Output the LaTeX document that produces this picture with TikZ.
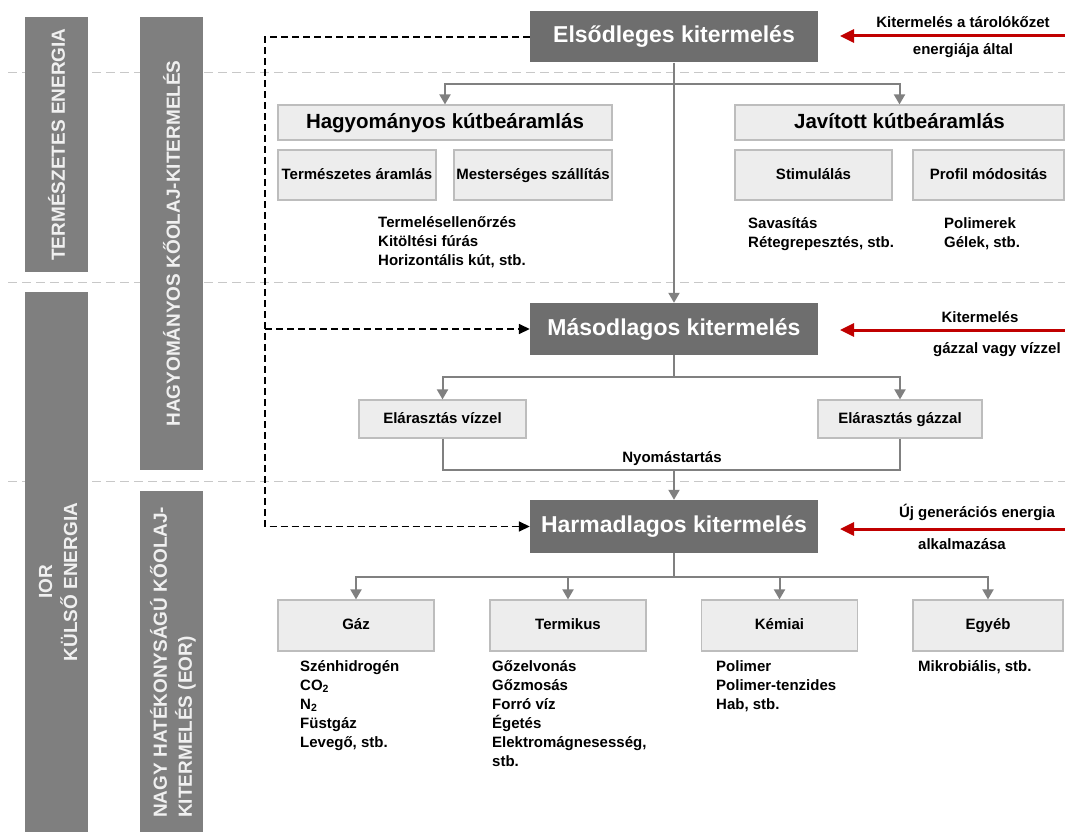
\documentclass[tikz,border=0pt]{standalone}
\usepackage{fontspec}
\setmainfont{Liberation Sans}
\usetikzlibrary{arrows.meta}
\newcommand\fsz[2]{\fontsize{#1}{#2}\selectfont}
\definecolor{darkbox}{HTML}{6E6E6E}
\definecolor{barc}{HTML}{7F7F7F}
\definecolor{lightbox}{HTML}{EDEDED}
\definecolor{lightedge}{HTML}{BDBDBD}
\definecolor{connc}{HTML}{808080}
\definecolor{redc}{HTML}{C00000}
\definecolor{sepc}{HTML}{C8C8C8}
\begin{document}
\begin{tikzpicture}[x=1pt,y=-1pt,
  dbox/.style={fill=darkbox, text=white, font=\fsz{23}{27}\bfseries, minimum width=288, minimum height=51, inner sep=0, text height=17pt, text depth=5pt},
  hbox/.style={fill=lightbox, draw=lightedge, line width=1.2pt, text=black, font=\fsz{20.5}{24}\bfseries, minimum height=35, inner sep=0, text height=15pt, text depth=3pt},
  sbox/.style={fill=lightbox, draw=lightedge, line width=1.2pt, text=black, font=\fsz{15}{18}\bfseries, minimum height=50, inner sep=0, text height=11pt, text depth=3pt},
  lst/.style={anchor=north west, inner sep=0, align=left, font=\fsz{15}{19}\bfseries},
  bar/.style={fill=barc, text=white!94!black, font=\fsz{19}{25}\bfseries, inner sep=0},
  gl/.style={draw=connc, line width=2pt},
  garr/.style={gl, -{Triangle[width=11pt,length=10pt]}},
  dsh/.style={draw=black, line width=1.6pt, dash pattern=on 7pt off 4pt},
  darr/.style={dsh, -{Triangle[width=10pt,length=11pt]}},
  rarr/.style={draw=redc, line width=3pt, -{Triangle[width=13pt,length=14pt]}},
  sepl/.style={draw=sepc, line width=1pt, dash pattern=on 9pt off 5pt},
  rtxt/.style={font=\fsz{15}{18}\bfseries, inner sep=0, anchor=base}
]
\useasboundingbox (0,0) rectangle (1065,832);
\fill[white] (0,0) rectangle (1065,832);

% separators
\coordinate (s1a) at (8,73);   \coordinate (s1b) at (1065,73);
\coordinate (s2a) at (8,282);  \coordinate (s2b) at (1065,282);
\coordinate (s3a) at (8,481);  \coordinate (s3b) at (1065,481);
\draw[sepl] (s1a) -- (s1b);
\draw[sepl] (s2a) -- (s2b);
\draw[sepl] (s3a) -- (s3b);

% left bars
\node[bar, rotate=90, minimum width=255, minimum height=63] (b1) at (56.5,144.5) {TERMÉSZETES ENERGIA};
\node[bar, minimum width=63, minimum height=540] (b2) at (56.5,562) {};
\node[bar, rotate=90, align=center] (t2) at (58,582) {IOR\\KÜLSŐ ENERGIA};
\node[bar, rotate=90, minimum width=453, minimum height=63] (b3) at (171.5,243.5) {HAGYOMÁNYOS KŐOLAJ-KITERMELÉS};
\node[bar, minimum width=63, minimum height=341] (b4) at (171.5,661.5) {};
\node[bar, rotate=90, anchor=west, align=left] (t4) at (173,818) {NAGY HATÉKONYSÁGÚ KŐOLAJ-\\KITERMELÉS (EOR)};

% main boxes
\node[dbox] (prim) at (674,37) {Elsődleges kitermelés};
\node[dbox, minimum height=52] (sec) at (674,329) {Másodlagos kitermelés};
\node[dbox, minimum height=53] (ter) at (674,526.5) {Harmadlagos kitermelés};

% primary level
\node[hbox, minimum width=334] (hagy) at (445,122.5) {Hagyományos kútbeáramlás};
\node[hbox, minimum width=329] (jav) at (899.5,122.5) {Javított kútbeáramlás};
\node[sbox, minimum width=158] (term) at (357,175) {Természetes áramlás};
\node[sbox, minimum width=158] (mest) at (533,175) {Mesterséges szállítás};
\node[sbox, minimum width=157] (stim) at (813.5,175) {Stimulálás};
\node[sbox, minimum width=151] (prof) at (988.5,175) {Profil módositás};
\node[lst] (l1) at (378,216) {Termelésellenőrzés\\Kitöltési fúrás\\Horizontális kút, stb.};
\node[lst] (l2) at (748,217) {Savasítás\\Rétegrepesztés, stb.};
\node[lst] (l3) at (944,217) {Polimerek\\Gélek, stb.};

% secondary level
\node[sbox, minimum width=167, minimum height=38] (viz) at (442.5,419) {Elárasztás vízzel};
\node[sbox, minimum width=164, minimum height=38] (gazzal) at (900,419) {Elárasztás gázzal};
\node[rtxt] (nyom) at (672,462) {Nyomástartás};

% tertiary level
\node[sbox, minimum width=156, minimum height=51] (gaz) at (356,625.5) {Gáz};
\node[sbox, minimum width=156, minimum height=51] (termik) at (568,625.5) {Termikus};
\node[sbox, minimum width=156, minimum height=51] (kem) at (779.5,625.5) {Kémiai};
\node[sbox, minimum width=150, minimum height=51] (egyeb) at (988,625.5) {Egyéb};
\node[lst] (l4) at (300,660) {Szénhidrogén\\CO\textsubscript{2}\\N\textsubscript{2}\\Füstgáz\\Levegő, stb.};
\node[lst] (l5) at (492,660) {Gőzelvonás\\Gőzmosás\\Forró víz\\Égetés\\Elektromágnesesség,\\stb.};
\node[lst] (l6) at (716,660) {Polimer\\Polimer-tenzides\\Hab, stb.};
\node[lst] (l7) at (918,660) {Mikrobiális, stb.};

% gray connectors
\coordinate (j1) at (674,84);
\coordinate (j2) at (674,377);
\coordinate (j3) at (674,470);
\coordinate (j4) at (674,577);
\draw[gl] (prim.south) -- (j1);
\draw[garr] (j1) -- (sec.north);
\draw[garr] (j1) -| (hagy.north);
\draw[garr] (j1) -| (jav.north);
\draw[gl] (sec.south) -- (j2);
\draw[garr] (j2) -| (viz.north);
\draw[garr] (j2) -| (gazzal.north);
\draw[gl] (viz.south) |- (j3) -| (gazzal.south);
\draw[garr] (j3) -- (ter.north);
\draw[gl] (ter.south) -- (j4);
\draw[garr] (j4) -| (gaz.north);
\draw[garr] (j4) -| (termik.north);
\draw[garr] (j4) -| (kem.north);
\draw[garr] (j4) -| (egyeb.north);

% dashed black connectors
\coordinate (dcol) at (265,0);
\draw[darr] (prim.west) -- (prim.west -| dcol) -- (ter.west -| dcol) -- (ter.west);
\draw[darr] (sec.west -| dcol) -- (sec.west);

% red arrows and texts
\coordinate (r1) at (1065,36);  \coordinate (e1) at (840,36);
\coordinate (r2) at (1065,330); \coordinate (e2) at (840,330);
\coordinate (r3) at (1065,529); \coordinate (e3) at (840,529);
\draw[rarr] (r1) -- (e1);
\draw[rarr] (r2) -- (e2);
\draw[rarr] (r3) -- (e3);
\node[rtxt] (k1) at (963,28) {Kitermelés a tárolókőzet};
\node[rtxt] (k2) at (963,55) {energiája által};
\node[rtxt] (k3) at (980,322) {Kitermelés};
\node[rtxt, anchor=base west] (k4) at (933,353) {gázzal vagy vízzel};
\node[rtxt] (k5) at (977,517) {Új generációs energia};
\node[rtxt] (k6) at (962,549) {alkalmazása};
\end{tikzpicture}
\end{document}
